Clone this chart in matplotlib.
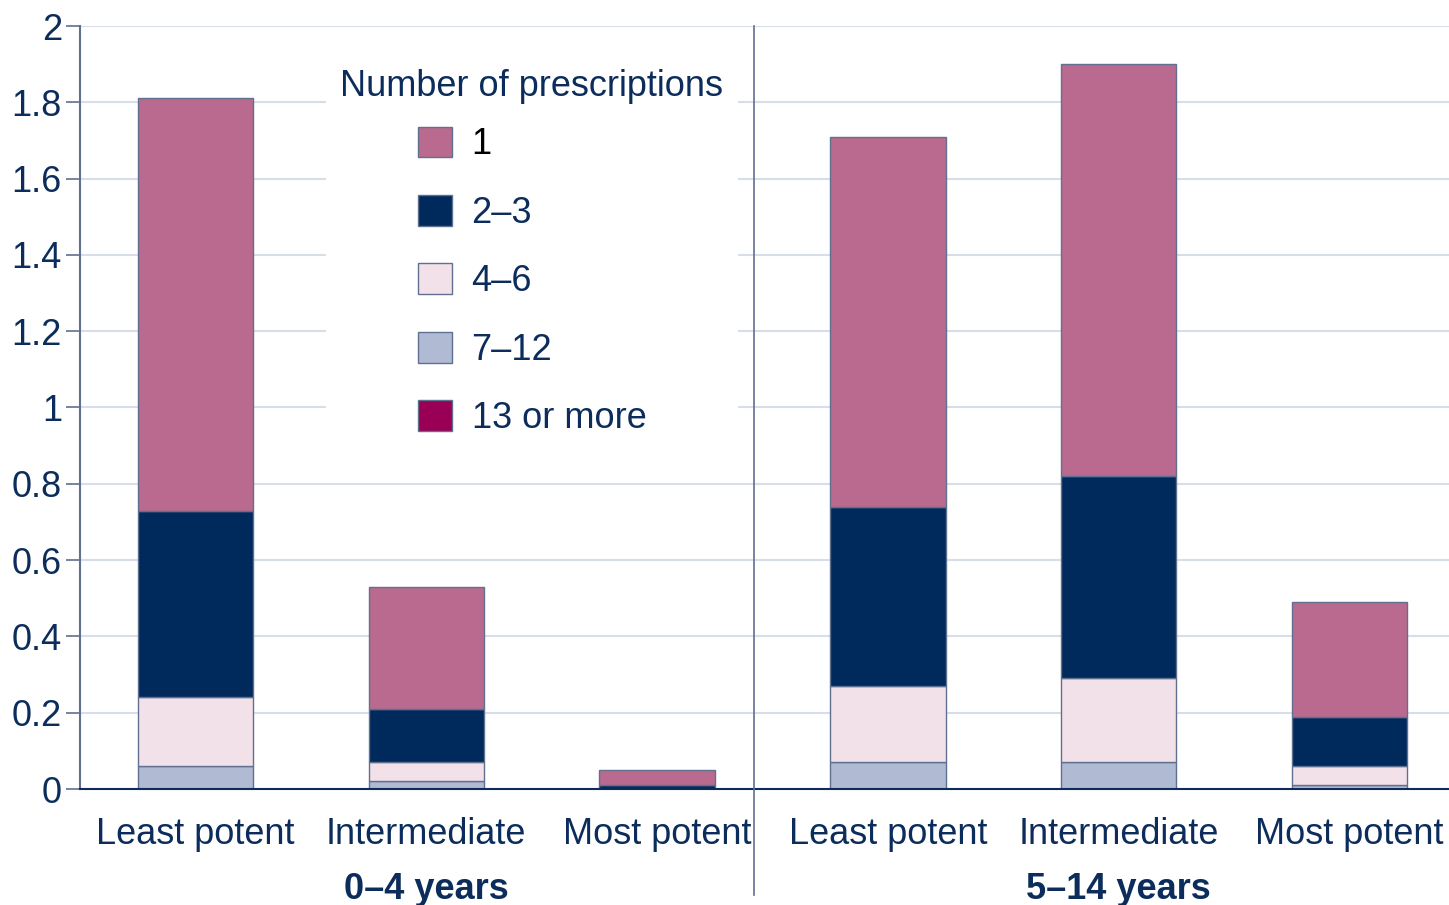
import matplotlib
matplotlib.use("Agg")
import matplotlib.pyplot as plt
import matplotlib.transforms as mtransforms
from matplotlib.patches import Patch
import numpy as np

plt.rcParams['font.family'] = ['Liberation Sans', 'DejaVu Sans']

# ---- data ----
groups = ["0–4 years", "5–14 years"]
categories = ["Least potent", "Intermediate", "Most potent"]
series_labels = ["1", "2–3", "4–6", "7–12", "13 or more"]
# values per bar (order: 0–4 LP, Int, MP, 5–14 LP, Int, MP)
s_1 = [1.08, 0.32, 0.04, 0.97, 1.08, 0.30]
s_2_3 = [0.49, 0.14, 0.01, 0.47, 0.53, 0.13]
s_4_6 = [0.18, 0.05, 0.00, 0.20, 0.22, 0.05]
s_7_12 = [0.06, 0.02, 0.00, 0.07, 0.07, 0.01]
s_13 = [0.00, 0.00, 0.00, 0.00, 0.00, 0.00]
y_ticks = [0, 0.2, 0.4, 0.6, 0.8, 1, 1.2, 1.4, 1.6, 1.8, 2]
y_tick_labels = ["0", "0.2", "0.4", "0.6", "0.8", "1", "1.2", "1.4", "1.6", "1.8", "2"]

colors = {"1": "#BA6A8E", "2–3": "#002A5C", "4–6": "#F2E1E8",
          "7–12": "#B1BAD3", "13 or more": "#990055"}
text_color = "#0C2D5C"
edge = "#5F7090"
grid_c = "#D8DDEA"
FS = 26

fig = plt.figure(figsize=(14.49, 9.05), dpi=100)
ax = fig.add_axes([80/1449, 1 - 789/905, 1 - 80/1449, (789 - 26)/905])

x = np.arange(6)
width = 0.5
stack_order = [("13 or more", s_13), ("7–12", s_7_12), ("4–6", s_4_6),
               ("2–3", s_2_3), ("1", s_1)]
bottom = np.zeros(6)
for name, vals in stack_order:
    v = np.array(vals)
    ax.bar(x, v, width, bottom=bottom, color=colors[name], edgecolor=edge,
           linewidth=1.0, zorder=3)
    bottom += v

ax.set_xlim(-0.5, (1449 - 194.5) / 231)
ax.set_ylim(0, 2)
ax.set_yticks(y_ticks)
ax.set_yticklabels(y_tick_labels, fontsize=FS, color=text_color)
ax.tick_params(axis='y', length=10, width=1.2, color=edge, pad=3)
ax.set_xticks(x)
ax.set_xticklabels(categories * 2, fontsize=FS, color=text_color)
ax.tick_params(axis='x', length=0, pad=20)

ax.grid(axis='y', color=grid_c, linewidth=1.5, zorder=0)
ax.set_axisbelow(True)
for s in ['top', 'right']:
    ax.spines[s].set_visible(False)
ax.spines['left'].set_color(edge)
ax.spines['left'].set_linewidth(1.5)
ax.spines['bottom'].set_color(text_color)
ax.spines['bottom'].set_linewidth(1.5)
ax.spines['bottom'].set_zorder(4)

# group divider
div_x = (753 - 194.5) / 231
trans = mtransforms.blended_transform_factory(ax.transData, ax.transAxes)
ax.plot([div_x, div_x], [1.0, -0.139], transform=trans, color=edge,
        linewidth=1.2, clip_on=False, zorder=5)

# group labels
for gi, g in enumerate(groups):
    ax.text(gi * 3 + 1, -0.132, g, transform=trans, ha='center', va='center',
            fontsize=FS, fontweight='bold', color=text_color)

# legend
handles = [Patch(facecolor=colors[n], edgecolor=edge, linewidth=1.0)
           for n in series_labels]
leg = ax.legend(handles, series_labels, title="Number of prescriptions",
                loc='upper left', bbox_to_anchor=(308/1449, 1 - 37/905),
                bbox_transform=fig.transFigure, fontsize=FS, title_fontsize=FS,
                frameon=True, facecolor='white', edgecolor='none', framealpha=1,
                fancybox=False, handlelength=0.94, handleheight=0.94,
                handletextpad=0.55, labelspacing=0.9, borderpad=0.4)
leg._legend_box.sep = 0.9 * FS - 7.5
leg.get_title().set_color(text_color)
for t in leg.get_texts():
    t.set_color(text_color)
leg.get_texts()[0].set_color("black")
leg.set_zorder(2)

fig.savefig("out.png", dpi=100)
